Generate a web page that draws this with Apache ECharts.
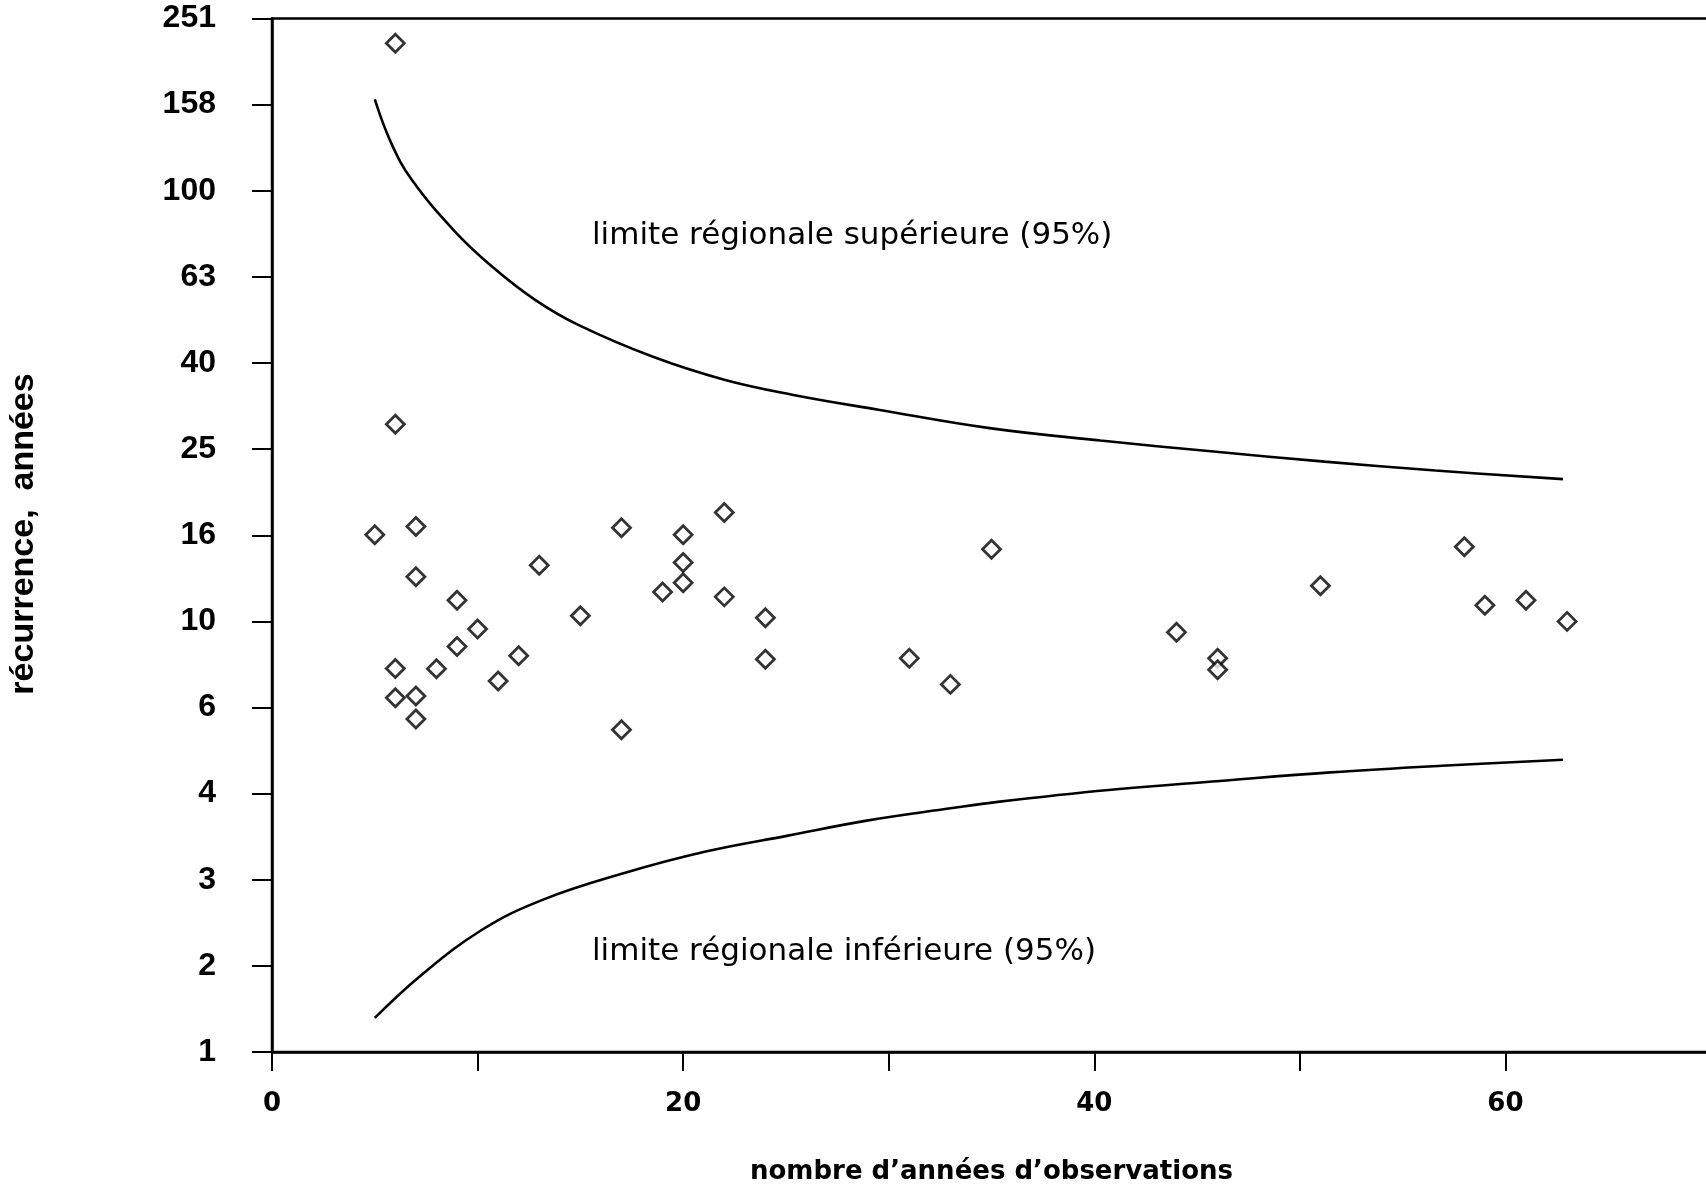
<!DOCTYPE html>
<html><head><meta charset="utf-8">
<script src="https://cdn.jsdelivr.net/npm/echarts@6.0.0/dist/echarts.min.js"></script>
<style>html,body{margin:0;padding:0;background:#fff}#chart{width:1706px;height:1188px}</style>
</head><body><div id="chart"></div>
<script>
// y tick labels (log scale, steps of 10^0.2)
const yTickLabels = ['1','2','3','4','6','10','16','25','40','63','100','158','251'];
const xTickLabels = {0:'0', 20:'20', 40:'40', 60:'60'};

// observed stations: years of observation vs recurrence (years)
const obsYears = [6, 6, 5, 7, 7, 9, 10, 9, 8, 6, 11, 12, 6, 7, 7, 13, 15, 17, 17, 19,
                  20, 20, 20, 22, 22, 24, 24, 31, 33, 35, 44, 46, 46, 51, 58, 59, 61, 63];
const recurrence = [220, 28.7, 15.9, 16.6, 12.7, 11.2, 9.6, 8.74, 7.76, 7.77, 7.27, 8.32, 6.65, 6.71, 5.93, 13.5, 10.3, 16.5, 5.60, 11.7,
                    15.9, 13.7, 12.3, 17.9, 11.4, 10.2, 8.17, 8.21, 7.14, 14.7, 9.44, 8.21, 7.72, 12.1, 14.9, 10.9, 11.2, 10.0];

// upper regional limit (95%)
const upperYears = [5, 5.8, 6.8, 8.9, 10.7, 12.8, 14.9, 18.5, 22, 25.3, 29.5, 34.9, 40.3, 45.8, 51.2, 56.6, 62.8];
const upperT     = [163, 129, 106, 80.4, 66.7, 55.8, 48.8, 41.2, 36.4, 33.6, 31.0, 28.1, 26.3, 24.8, 23.5, 22.4, 21.4];

// lower regional limit (95%)
const lowerYears = [5, 7.2, 10.2, 13.1, 17.1, 21.1, 25.1, 29.0, 33.0, 35.3, 40.7, 46.1, 51.5, 56.9, 62.8];
const lowerT     = [1.20, 1.50, 1.92, 2.25, 2.60, 2.92, 3.18, 3.45, 3.68, 3.81, 4.06, 4.26, 4.46, 4.62, 4.77];

const upperLabel = 'limite régionale supérieure (95%)';
const lowerLabel = 'limite régionale inférieure (95%)';
const xName = 'nombre d\u2019années d\u2019observations';
const yName = 'récurrence,  années';

const lg = v => Math.log10(v);
const chart = echarts.init(document.getElementById('chart'), null, {renderer: 'canvas'});
const plotFont = '"DejaVu Sans", sans-serif';
const tickFont = '"Liberation Sans", Arial, sans-serif';

chart.setOption({
  animation: false,
  backgroundColor: '#fff',
  grid: {left: 272, right: -5, top: 18.5, bottom: 136, show: true, borderColor: '#000', borderWidth: 2.5,
         containLabel: false, outerBoundsMode: 'none'},
  xAxis: {
    type: 'value', min: 0, max: 70, interval: 10,
    name: xName, nameLocation: 'middle', nameGap: 107,
    nameTextStyle: {fontFamily: plotFont, fontSize: 26, fontWeight: 'bold', color: '#000'},
    axisLine: {show: true, lineStyle: {color: '#000', width: 2.5}},
    axisTick: {show: true, length: 19, lineStyle: {color: '#000', width: 2}},
    axisLabel: {margin: 39, fontFamily: plotFont, fontSize: 26, fontWeight: 'bold', color: '#000',
                showMaxLabel: false, formatter: v => (xTickLabels[v] !== undefined ? xTickLabels[v] : '')},
    splitLine: {show: false}
  },
  yAxis: {
    type: 'value', min: 0, max: 2.4, interval: 0.2,
    axisLine: {show: true, lineStyle: {color: '#000', width: 2.5}},
    axisTick: {show: true, length: 20, lineStyle: {color: '#000', width: 2}},
    axisLabel: {margin: 56, fontFamily: tickFont, fontSize: 32, fontWeight: 'bold', color: '#000',
                formatter: v => yTickLabels[Math.round(v / 0.2)]},
    splitLine: {show: false}
  },
  graphic: [
    {type: 'text', x: 24, y: 534, rotation: Math.PI / 2,
     style: {text: yName, font: 'bold 34px "Liberation Sans", Arial, sans-serif', fill: '#000', align: 'center', verticalAlign: 'middle'}},
    {type: 'text', x: 592, y: 236,
     style: {text: upperLabel, font: '31px "DejaVu Sans", sans-serif', fill: '#000', align: 'left', verticalAlign: 'middle'}},
    {type: 'text', x: 592, y: 952,
     style: {text: lowerLabel, font: '31px "DejaVu Sans", sans-serif', fill: '#000', align: 'left', verticalAlign: 'middle'}}
  ],
  series: [
    {type: 'line', data: upperYears.map((n, i) => [n, lg(upperT[i])]), smooth: 0.4,
     showSymbol: false, symbol: 'none', lineStyle: {color: '#000', width: 2.6}, silent: true},
    {type: 'line', data: lowerYears.map((n, i) => [n, lg(lowerT[i])]), smooth: 0.4,
     showSymbol: false, symbol: 'none', lineStyle: {color: '#000', width: 2.6}, silent: true},
    {type: 'scatter', data: obsYears.map((n, i) => [n, lg(recurrence[i])]), symbol: 'diamond', symbolSize: 18,
     itemStyle: {color: '#fff', borderColor: '#000', borderWidth: 2.8}}
  ]
});
</script></body></html>
